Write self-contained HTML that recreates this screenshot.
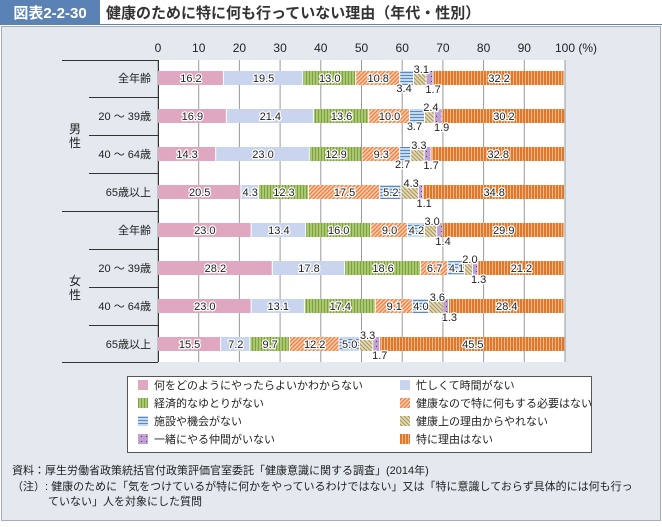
<!DOCTYPE html>
<html><head><meta charset="utf-8">
<style>
body{margin:0;width:662px;height:522px;overflow:hidden;background:#fff;font-family:"Liberation Sans","Noto Sans CJK JP",sans-serif;}
svg text{font-family:"Liberation Sans","Noto Sans CJK JP",sans-serif;}
</style></head><body>
<svg id="chart" width="662" height="522" viewBox="0 0 662 522">
<defs>
<pattern id="p2" width="3" height="4" patternUnits="userSpaceOnUse"><rect width="3" height="4" fill="#a9c870"/><rect width="1" height="4" fill="#7fa040"/></pattern>
<pattern id="p3" width="4" height="4" patternUnits="userSpaceOnUse"><rect width="4" height="4" fill="#f8cfb0"/><path d="M-1,5 L5,-1 M3,5 L5,3 M-1,1 L1,-1" stroke="#ec8448" stroke-width="1.4"/></pattern>
<pattern id="p4" width="4" height="3" patternUnits="userSpaceOnUse"><rect width="4" height="3" fill="#c4d8ee"/><rect width="4" height="1" fill="#5a88c0"/></pattern>
<pattern id="p5" width="4" height="4" patternUnits="userSpaceOnUse"><rect width="4" height="4" fill="#e6dcb8"/><path d="M-1,-1 L5,5 M3,-1 L5,1 M-1,3 L1,5" stroke="#ac9c68" stroke-width="1.2"/></pattern>
<pattern id="p6" width="5" height="5" patternUnits="userSpaceOnUse"><rect width="5" height="5" fill="#bfa0d0"/><rect x="1" y="1" width="1" height="1" fill="#503060"/></pattern>
<pattern id="p7" width="3" height="4" patternUnits="userSpaceOnUse"><rect width="3" height="4" fill="#e0782c"/><rect width="1" height="4" fill="#f4b888"/></pattern>
</defs>
<rect x="0" y="0" width="662" height="522" fill="#fff"/>
<rect x="1.5" y="26.5" width="659" height="494" fill="#e3e9ef" stroke="#aab"/>
<rect x="0" y="0" width="100" height="25" fill="#5b82b5"/>
<text x="50" y="18" fill="#fff" font-size="15" font-weight="bold" text-anchor="middle">図表2-2-30</text>
<text x="106" y="18" fill="#333" font-size="15" font-weight="bold">健康のために特に何も行っていない理由（年代・性別）</text>
<line x1="100" y1="24.5" x2="662" y2="24.5" stroke="#5b82b5" stroke-width="1"/>
<rect x="158" y="60" width="407" height="302" fill="#fff"/>
<g id="grid"></g><g id="bars"></g><g id="labels"></g>
<g id="legend">
<rect x="127.5" y="376.5" width="464" height="76" fill="#fff" stroke="#555"/>
</g>
<text x="12" y="474" font-size="11" fill="#222">資料：厚生労働省政策統括官付政策評価官室委託「健康意識に関する調査」(2014年)</text>
<text x="12" y="490" font-size="11" fill="#222">（注）: 健康のために「気をつけているが特に何かをやっているわけではない」又は「特に意識しておらず具体的には何も行っ</text>
<text x="48" y="505" font-size="11" fill="#222">ていない」人を対象にした質問</text>
</svg>
<script>
const categories=["全年齢","20 ～ 39歳","40 ～ 64歳","65歳以上","全年齢","20 ～ 39歳","40 ～ 64歳","65歳以上"];
const groups=["男性","女性"];
const seriesNames=["何をどのようにやったらよいかわからない","忙しくて時間がない","経済的なゆとりがない","健康なので特に何もする必要はない","施設や機会がない","健康上の理由からやれない","一緒にやる仲間がいない","特に理由はない"];
const s0=[16.2,16.9,14.3,20.5,23.0,28.2,23.0,15.5];
const s1=[19.5,21.4,23.0,4.3,13.4,17.8,13.1,7.2];
const s2=[13.0,13.6,12.9,12.3,16.0,18.6,17.4,9.7];
const s3=[10.8,10.0,9.3,17.5,9.0,6.7,9.1,12.2];
const s4=[3.4,3.7,2.7,5.2,4.2,4.1,4.0,5.0];
const s5=[3.1,2.4,3.3,4.3,3.0,2.0,3.6,3.3];
const s6=[1.7,1.9,1.7,1.1,1.4,1.3,1.3,1.7];
const s7=[32.2,30.2,32.8,34.8,29.9,21.2,28.4,45.5];
const ticks=[0,10,20,30,40,50,60,70,80,90,100];
const series=[s0,s1,s2,s3,s4,s5,s6,s7];
const fills=["#e0a8c0","#c9d5ee","url(#p2)","url(#p3)","url(#p4)","url(#p5)","url(#p6)","url(#p7)"];
const NS="http://www.w3.org/2000/svg";
const X=v=>158+v*4.07;
const Y=i=>78+i*38;
function mk(tag,attrs,parent,txt){const e=document.createElementNS(NS,tag);for(const k in attrs)e.setAttribute(k,attrs[k]);if(txt!==undefined)e.textContent=txt;parent.appendChild(e);return e;}
const svg=document.getElementById('chart'),grid=document.getElementById('grid'),bars=document.getElementById('bars'),labels=document.getElementById('labels'),legend=document.getElementById('legend');
ticks.forEach(t=>{
  const l=mk('line',{x1:X(t),x2:X(t),y1:60,y2:362,stroke:'#999','stroke-width':1},grid);
  
  
  const tx=mk('text',{x:X(t),y:52,'font-size':12,'text-anchor':'middle',fill:'#222'},grid,t===100?'100 (%)':String(t));
  if(t===100){tx.setAttribute('text-anchor','start');tx.setAttribute('x',X(t)-10);}
  
  
});
mk('line',{x1:158.5,x2:158.5,y1:60,y2:362,stroke:'#333'},grid);
mk('line',{x1:62,x2:158,y1:60.5,y2:60.5,stroke:'#333'},grid);
mk('line',{x1:62,x2:158,y1:211.5,y2:211.5,stroke:'#333'},grid);
mk('line',{x1:62,x2:158,y1:362.5,y2:362.5,stroke:'#333'},grid);
[0,1,2,4,5,6].forEach(i=>mk('line',{x1:89,x2:158,y1:Y(i)+19.5,y2:Y(i)+19.5,stroke:'#333'},grid));
categories.forEach((c,i)=>{
  const t=mk('text',{x:151,y:Y(i)+4,'font-size':11,'text-anchor':'end',fill:'#222'},grid,c);
  
  
});
groups.forEach((g,gi)=>{
  const cy=Y(gi*4)+57;
  const t=mk('text',{x:75,y:cy-2,'font-size':12,'text-anchor':'middle',fill:'#222'},grid,g[0]);
  
  
  mk('text',{x:75,y:cy+12,'font-size':12,'text-anchor':'middle',fill:'#222'},grid,g[1]);
});
function lab(x,y,s){const t=mk('text',{x:x,y:y,'font-size':11,'text-anchor':'middle',fill:'#222',stroke:'#fff','stroke-width':2.5,'paint-order':'stroke','stroke-linejoin':'round'},labels,s);
  
  }
categories.forEach((c,i)=>{
  let acc=0;const y=Y(i);
  series.forEach((s,k)=>{
    const v=s[i],x0=X(acc),x1=X(acc+v);
    const r=mk('rect',{x:x0,y:y-7,width:Math.max(0,x1-x0-1),height:14,fill:fills[k]},bars);
    
    
    const cx=(x0+x1)/2,str=v.toFixed(1);
    if(k===5)lab(cx+1,y-5,str);
    else if(k===6)lab(cx+3,y+15,str);
    else if(k===4&&v<4)lab(cx-3,y+14,str);
    else lab(cx,y+4,str);
    acc+=v;
  });
});
seriesNames.forEach((n,k)=>{
  const col=k%2,row=Math.floor(k/2);
  const x=138+col*262,y=385+row*18;
  const r=mk('rect',{x:x,y:y-5,width:10,height:10,fill:fills[k]},legend);
  
  
  const t=mk('text',{x:x+16,y:y+4,'font-size':11,fill:'#222'},legend,n);
  
  
});
</script>
</body></html>
